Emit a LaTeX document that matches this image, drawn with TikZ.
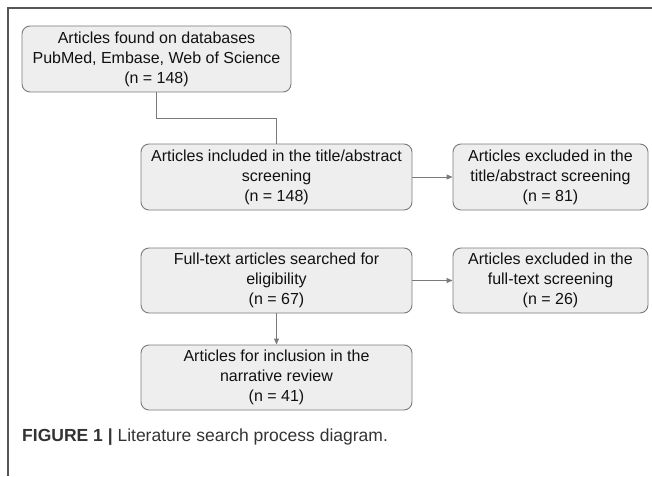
\documentclass[tikz,border=0pt]{standalone}
\usepackage{fontspec}
\setmainfont{Liberation Sans}
\usetikzlibrary{arrows.meta}
\definecolor{boxfill}{HTML}{EEEEEE}
\definecolor{boxline}{HTML}{7A7A7A}
\definecolor{frameline}{HTML}{555555}
\definecolor{txt}{HTML}{111111}
\definecolor{captxt}{HTML}{333333}
\tikzset{
  flowbox/.style={draw=boxline, line width=0.9pt, fill=boxfill, rounded corners=8pt,
    align=center, text=txt, inner sep=0pt,
    font=\fontsize{16}{20}\selectfont},
  link/.style={draw=boxline, line width=0.9pt},
  arr/.style={link, -{Triangle[length=6pt,width=5pt]}}
}
\begin{document}
\begin{tikzpicture}[x=1pt,y=-1pt]
\useasboundingbox (0,0) rectangle (652,476);
\draw[frameline, line width=1.6pt] (8,476) -- (8,8) -- (652,8);
\node[flowbox, minimum width=269pt, minimum height=66pt] (A) at (156.5,59)
  {Articles found on databases\\PubMed, Embase, Web of Science\\(n = 148)};
\node[flowbox, minimum width=271pt, minimum height=66pt] (B) at (276.5,177)
  {Articles included in the title/abstract\\screening\\(n = 148)};
\node[flowbox, minimum width=195pt, minimum height=66pt] (C) at (550.5,177)
  {Articles excluded in the\\title/abstract screening\\(n = 81)};
\node[flowbox, minimum width=271pt, minimum height=65pt] (D) at (276.5,280.5)
  {Full-text articles searched for\\eligibility\\(n = 67)};
\node[flowbox, minimum width=195pt, minimum height=65pt] (E) at (550.5,280.5)
  {Articles excluded in the\\full-text screening\\(n = 26)};
\node[flowbox, minimum width=271pt, minimum height=65pt] (F) at (276.5,377.5)
  {Articles for inclusion in the\\narrative review\\(n = 41)};
\coordinate (bend) at (156.5,118);
\draw[link] (A.south) -- (bend) -| (B.north);
\draw[arr] (B.east) -- (C.west);
\draw[arr] (D.east) -- (E.west);
\draw[arr] (D.south) -- (F.north);
\node[anchor=west, inner sep=0pt, text=captxt, font=\fontsize{17.5}{20}\selectfont] (cap) at (22,437)
  {\textbf{FIGURE 1 |} Literature search process diagram.};
\end{tikzpicture}
\end{document}
